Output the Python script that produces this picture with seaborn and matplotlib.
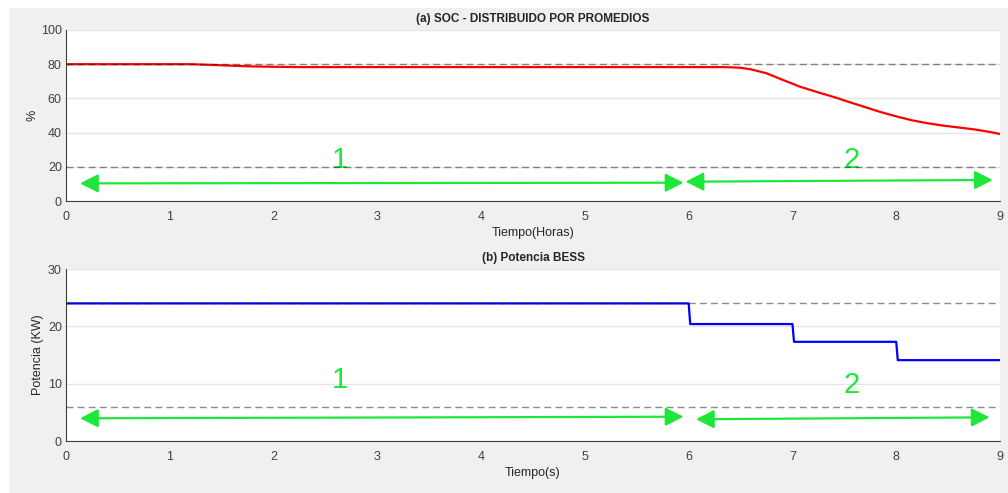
import numpy as np
import pandas as pd
import seaborn as sns
import matplotlib.pyplot as plt
from matplotlib.patches import Rectangle

# Datos
soc_t = [0.0, 0.5, 1.0, 1.2, 1.4, 1.6, 1.8, 2.0, 2.25, 3.0, 4.0, 5.0, 6.0, 6.3,
         6.4, 6.5, 6.6, 6.75, 6.9, 7.07, 7.25, 7.4, 7.55, 7.7, 7.85, 8.0, 8.15,
         8.3, 8.45, 8.6, 8.75, 8.9, 9.0]
soc_vals = [80.0, 80.0, 80.0, 80.0, 79.6, 79.1, 78.7, 78.5, 78.3, 78.3, 78.3, 78.3,
            78.3, 78.3, 78.2, 77.9, 77.0, 74.7, 71.0, 66.9, 63.5, 60.8, 57.8, 54.9,
            52.0, 49.5, 47.2, 45.5, 44.1, 43.0, 41.9, 40.4, 39.2]

pot_t = [0.0, 6.0, 6.015, 7.0, 7.015, 8.0, 8.015, 9.0]
pot_vals = [24.0, 24.0, 20.4, 20.4, 17.3, 17.3, 14.1, 14.1]

soc_limits = [80, 20]
pot_limits = [24, 6]

# flechas de zonas: (x0, y0, x1, y1)
soc_arrows = [(0.135, 10.3, 5.95, 10.7), (5.97, 11.3, 8.93, 12.3)]
pot_arrows = [(0.135, 3.96, 5.95, 4.24), (6.07, 3.79, 8.90, 4.13)]
zone_labels = ['1', '2']
soc_label_pos = [(2.64, 24), (7.57, 24)]
pot_label_pos = [(2.64, 10.6), (7.57, 9.8)]

sns.set_theme(style="white")
plt.rcParams['font.family'] = ['Liberation Sans', 'DejaVu Sans']

fig = plt.figure(figsize=(10.08, 4.93), dpi=100)
fig.patch.set_facecolor('white')
fig.add_artist(Rectangle((9 / 1008, 0), 1, 1 - 8 / 493, transform=fig.transFigure,
                         facecolor='#f0f0f0', edgecolor='none', zorder=-10))

ax1 = fig.add_axes([66 / 1008, 1 - 201 / 493, 934 / 1008, 171 / 493])
ax2 = fig.add_axes([66 / 1008, 1 - 441 / 493, 934 / 1008, 172 / 493])

green = '#1de83a'


def style_axes(ax, ymax, ystep):
    ax.set_facecolor('white')
    ax.set_xlim(0, 9)
    ax.set_ylim(0, ymax)
    ax.set_xticks(range(0, 10))
    ax.set_yticks(np.arange(0, ymax + 1, ystep))
    ax.yaxis.grid(True, color='#e6e6e6', linewidth=1)
    ax.set_axisbelow(True)
    for s in ['top', 'right']:
        ax.spines[s].set_visible(False)
    for s in ['left', 'bottom']:
        ax.spines[s].set_color('#404040')
        ax.spines[s].set_linewidth(0.8)
    ax.tick_params(direction='in', length=6.5, width=0.8, labelsize=9,
                   color='#404040', labelcolor='#404040')
    ax.tick_params(axis='x', pad=7)
    ax.tick_params(axis='y', pad=3)


def draw_zones(ax, arrows, label_pos):
    for (x0, y0, x1, y1) in arrows:
        ax.annotate('', xy=(x1, y1), xytext=(x0, y0),
                    arrowprops=dict(arrowstyle='<|-|>,head_length=0.55,head_width=0.28',
                                    color=green, lw=1.6, mutation_scale=20,
                                    shrinkA=0, shrinkB=0))
    for lab, (x, y) in zip(zone_labels, label_pos):
        ax.text(x, y, lab, color=green, fontsize=21, ha='center', va='center')


# (a) SOC
sns.lineplot(x=soc_t, y=soc_vals, ax=ax1, color='red', linewidth=1.6)
for v in soc_limits:
    ax1.axhline(v, color='k', alpha=0.5, linestyle=(0, (5, 3)), linewidth=1, zorder=5)
style_axes(ax1, 100, 20)
draw_zones(ax1, soc_arrows, soc_label_pos)
ax1.set_title('(a) SOC - DISTRIBUIDO POR PROMEDIOS', fontsize=8.5, fontweight='bold', pad=6)
ax1.set_xlabel('Tiempo(Horas)', fontsize=9, color='#262626', labelpad=3)
ax1.set_ylabel('%', fontsize=9, color='#262626', labelpad=2)

# (b) Potencia
sns.lineplot(x=pot_t, y=pot_vals, ax=ax2, color='blue', linewidth=1.6, sort=False)
for v in pot_limits:
    ax2.axhline(v, color='k', alpha=0.5, linestyle=(0, (5, 3)), linewidth=1, zorder=5)
style_axes(ax2, 30, 10)
draw_zones(ax2, pot_arrows, pot_label_pos)
ax2.set_title('(b) Potencia BESS', fontsize=8.5, fontweight='bold', pad=6)
ax2.set_xlabel('Tiempo(s)', fontsize=9, color='#262626', labelpad=3)
ax2.set_ylabel('Potencia (KW)', fontsize=9, color='#262626', labelpad=3)

fig.savefig('out.png', dpi=100, facecolor=fig.get_facecolor())
